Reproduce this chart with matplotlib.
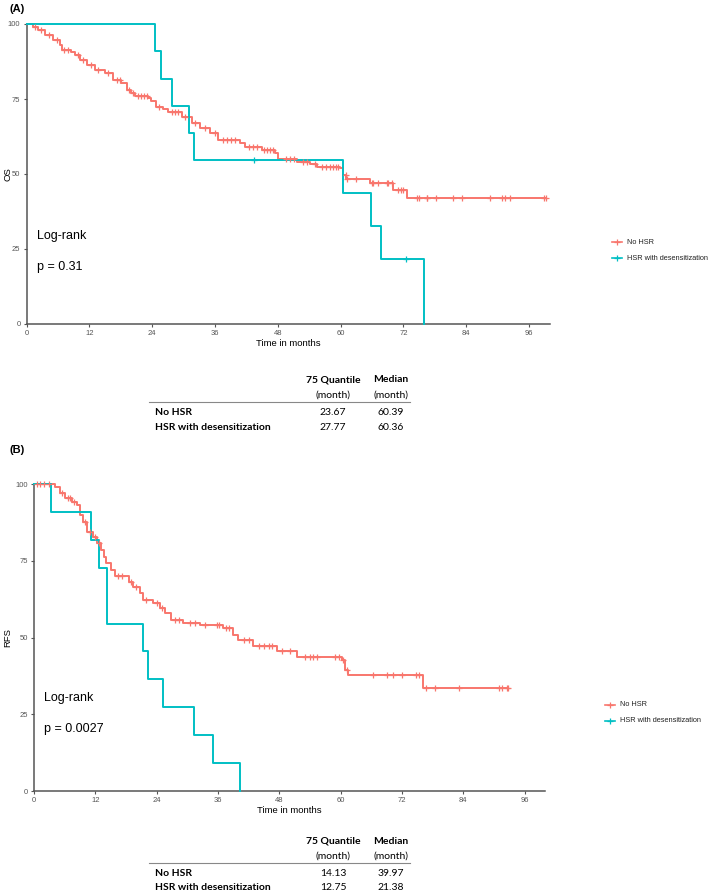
# Kaplan-Meier style OS / RFS panels with summary tables
import matplotlib.pyplot as plt
import numpy as np

groups = ['No HSR', 'HSR with desensitization']
colors = ['#F8766D', '#00BFC4']
x_ticks = [0, 12, 24, 36, 48, 60, 72, 84, 96]
y_ticks = [0, 25, 50, 75, 100]

# OS, No HSR: step times / survival levels
os_nohsr_t = [0, 1.2, 2.2, 3.5, 5.1, 6.4, 6.7, 8.5, 9.2, 10.2, 11.5, 13.0, 14.9, 16.5, 18.1,
              19.1, 20.0, 20.7, 23.2, 23.67, 24.8, 26.0, 27.0, 29.6, 31.5, 33.1, 35.0, 36.6,
              40.7, 41.7, 44.9, 47.4, 48.1, 51.6, 54.1, 55.4, 59.8, 60.39, 61.1, 65.6, 70.0, 72.6]
os_nohsr_s = [100, 99, 98, 96.3, 94.7, 93, 91.3, 90.5, 89.7, 88, 86.3, 84.7, 83.6, 81.3, 80.2,
              78, 77, 76, 75.2, 74.2, 72.2, 71.5, 70.8, 69.1, 66.9, 65.2, 63.6, 61.3,
              60.2, 59.1, 58, 56.9, 54.9, 54.1, 53.2, 52.4, 51.9, 49.7, 48.2, 46.9, 44.5, 41.9]
os_nohsr_cens = [1.5, 2.8, 4.2, 5.8, 7.2, 7.8, 9.8, 10.8, 12.3, 13.6, 15.5, 17.2, 17.8, 19.5,
                 20.4, 21.3, 21.9, 22.5, 23.0, 25.3, 27.8, 28.4, 29.0, 30.2, 32.2, 34.1, 36.0,
                 37.5, 38.2, 39.0, 39.8, 42.5, 43.2, 44.0, 45.3, 45.9, 46.5, 47.0, 49.5, 50.3,
                 51.0, 52.8, 53.6, 55.0, 56.5, 57.2, 57.9, 58.5, 59.1, 59.5, 61.0, 61.2, 62.9,
                 65.9, 66.2, 67.2, 68.8, 69.1, 69.8, 71.0, 71.5, 71.9, 74.5, 75.0, 76.4, 76.5,
                 78.3, 81.4, 83.1, 88.5, 90.9, 91.4, 92.3, 98.8, 99.3]

# OS, HSR with desensitization
os_hsr_t = [0, 24.6, 25.7, 27.77, 31.1, 32.0, 60.36, 65.7, 67.7, 75.9]
os_hsr_s = [100, 90.9, 81.8, 72.7, 63.6, 54.5, 43.6, 32.7, 21.8, 0]
os_hsr_cens = [43.4, 72.5]

# RFS, No HSR
rfs_nohsr_t = [0, 4.1, 5.1, 6.1, 7.4, 8.4, 9.0, 9.6, 10.4, 11.5, 12.4, 13.2, 13.7, 14.13, 15.0,
               15.9, 18.5, 19.4, 20.7, 21.4, 23.3, 24.7, 25.6, 26.9, 29.2, 32.5, 37.0, 39.0,
               39.97, 42.9, 47.5, 51.4, 60.2, 60.9, 61.5, 76.2]
rfs_nohsr_s = [100, 99.2, 97.1, 95.4, 94.3, 93.2, 90, 87.8, 84.5, 82.7, 80.8, 78.6, 76.4, 74.3,
               72.2, 70.1, 68.2, 66.6, 64.5, 62.3, 61.2, 59.6, 57.9, 55.8, 54.9, 54.1, 53.0,
               50.9, 49.2, 47.3, 45.7, 43.8, 42.7, 39.5, 37.8, 33.5]
rfs_nohsr_cens = [0.5, 1.2, 2.0, 3.0, 5.5, 6.6, 7.0, 7.9, 10.0, 11.0, 12.0, 12.8, 16.5, 17.2,
                  18.9, 20.0, 22.0, 24.0, 25.0, 27.5, 28.3, 30.5, 31.5, 33.5, 35.8, 36.3, 37.5,
                  38.2, 41.0, 42.0, 44.0, 45.0, 46.0, 46.6, 48.5, 50.0, 53.0, 54.0, 54.6, 55.3,
                  59.0, 59.6, 60.5, 61.2, 66.3, 69.0, 70.2, 72.1, 74.8, 75.3, 76.7, 78.5, 83.2,
                  91.0, 91.6, 92.5, 92.8]

# RFS, HSR with desensitization
rfs_hsr_t = [0, 3.3, 11.1, 12.75, 14.2, 21.38, 22.4, 25.3, 31.4, 35.1, 40.4]
rfs_hsr_s = [100, 90.9, 81.8, 72.7, 54.5, 45.5, 36.4, 27.3, 18.2, 9.1, 0]
rfs_hsr_cens = []

# Summary tables
q75_os = ['23.67', '27.77']
med_os = ['60.39', '60.36']
q75_rfs = ['14.13', '12.75']
med_rfs = ['39.97', '21.38']

W, H = 709, 894
fig = plt.figure(figsize=(W / 100, H / 100), dpi=100)
AX_FONT = 'Liberation Sans'
TAB_FONT = 'Lato'


def fx(px):
    return px / W


def fy(py):
    return 1 - py / H


def surv_at(t, s, x):
    i = np.searchsorted(t, x, side='right') - 1
    return s[i]


def km_line(ax, t, s, cens, color):
    t = np.array(t, dtype=float)
    s = np.array(s, dtype=float)
    t_end = max([t[-1]] + list(cens))
    ax.step(np.append(t, t_end), np.append(s, s[-1]), where='post', color=color,
            lw=1.4, clip_on=False, zorder=3)
    if cens:
        cy = [surv_at(t, s, c) for c in cens]
        ax.plot(cens, cy, ls='none', marker='+', ms=5, mew=0.9, color=color,
                clip_on=False, zorder=4)


def panel(box, curves, ylabel, letter, letter_y, logrank_y, p_text, legend_y, legend_x):
    left, top, right, bottom = box
    ax = fig.add_axes([fx(left), fy(bottom), fx(right) - fx(left), fy(top) - fy(bottom)])
    for (t, s, c), col in zip(curves, colors):
        km_line(ax, t, s, c, col)
    ax.set_xlim(0, 100)
    ax.set_ylim(0, 100)
    ax.set_xticks(x_ticks)
    ax.set_yticks(y_ticks)
    for sp in ['top', 'right']:
        ax.spines[sp].set_visible(False)
    for sp in ['left', 'bottom']:
        ax.spines[sp].set_color('#555555')
        ax.spines[sp].set_linewidth(1.1)
    ax.tick_params(length=2.5, width=0.8, color='#555555', labelsize=5.5,
                   labelcolor='#555555', pad=2)
    for lab in ax.get_xticklabels() + ax.get_yticklabels():
        lab.set_fontfamily(AX_FONT)
    ax.set_xlabel('Time in months', fontsize=6.8, family=AX_FONT, labelpad=1.5)
    fig.text(fx(8), fy((top + bottom) / 2), ylabel, fontsize=6.8, family=AX_FONT,
             rotation=90, ha='center', va='center')
    fig.text(fx(10), fy(letter_y), letter, fontsize=8, fontweight='bold', family=AX_FONT,
             va='center', ha='left')
    fig.text(fx(left + 10), fy(logrank_y), 'Log-rank', fontsize=9, family=AX_FONT, va='center')
    fig.text(fx(left + 10), fy(logrank_y + 31), p_text, fontsize=9, family=AX_FONT, va='center')
    for i, (g, col) in enumerate(zip(groups, colors)):
        yy = fy(legend_y + i * 16)
        fig.lines.append(plt.Line2D([fx(legend_x), fx(legend_x + 10)], [yy, yy], color=col,
                                    lw=1.2, transform=fig.transFigure))
        fig.lines.append(plt.Line2D([fx(legend_x + 5)], [yy], color=col, marker='+', ms=5,
                                    mew=0.9, transform=fig.transFigure))
        fig.text(fx(legend_x + 15), yy, g, fontsize=5.3, family=AX_FONT, va='center',
                 color='#222222')
    return ax


def table(y0, q75, med):
    fig.text(fx(333), fy(y0), '75 Quantile', fontsize=7.5, fontweight='bold',
             family=TAB_FONT, ha='center', va='center')
    fig.text(fx(391), fy(y0), 'Median', fontsize=7.5, fontweight='bold',
             family=TAB_FONT, ha='center', va='center')
    fig.text(fx(333), fy(y0 + 15), '(month)', fontsize=7.5, family=TAB_FONT,
             ha='center', va='center')
    fig.text(fx(391), fy(y0 + 15), '(month)', fontsize=7.5, family=TAB_FONT,
             ha='center', va='center')
    fig.lines.append(plt.Line2D([fx(149), fx(410)], [fy(y0 + 22), fy(y0 + 22)],
                                color='#888888', lw=0.8, transform=fig.transFigure))
    for i, g in enumerate(groups):
        yy = fy(y0 + 32 + i * 15)
        fig.text(fx(155), yy, g, fontsize=7.5, fontweight='bold', family=TAB_FONT,
                 ha='left', va='center')
        fig.text(fx(333), yy, q75[i], fontsize=7.5, family=TAB_FONT, ha='center', va='center')
        fig.text(fx(391), yy, med[i], fontsize=7.5, family=TAB_FONT, ha='center', va='center')


panel((26.7, 24, 550, 324),
      [(os_nohsr_t, os_nohsr_s, os_nohsr_cens), (os_hsr_t, os_hsr_s, os_hsr_cens)],
      'OS', '(A)', 9, 236, 'p = 0.31', 242, 612)
table(380, q75_os, med_os)

panel((34, 484.3, 545, 791),
      [(rfs_nohsr_t, rfs_nohsr_s, rfs_nohsr_cens), (rfs_hsr_t, rfs_hsr_s, rfs_hsr_cens)],
      'RFS', '(B)', 450, 698, 'p = 0.0027', 705, 605)
table(841, q75_rfs, med_rfs)

fig.savefig('out.png', dpi=100, facecolor='white')
